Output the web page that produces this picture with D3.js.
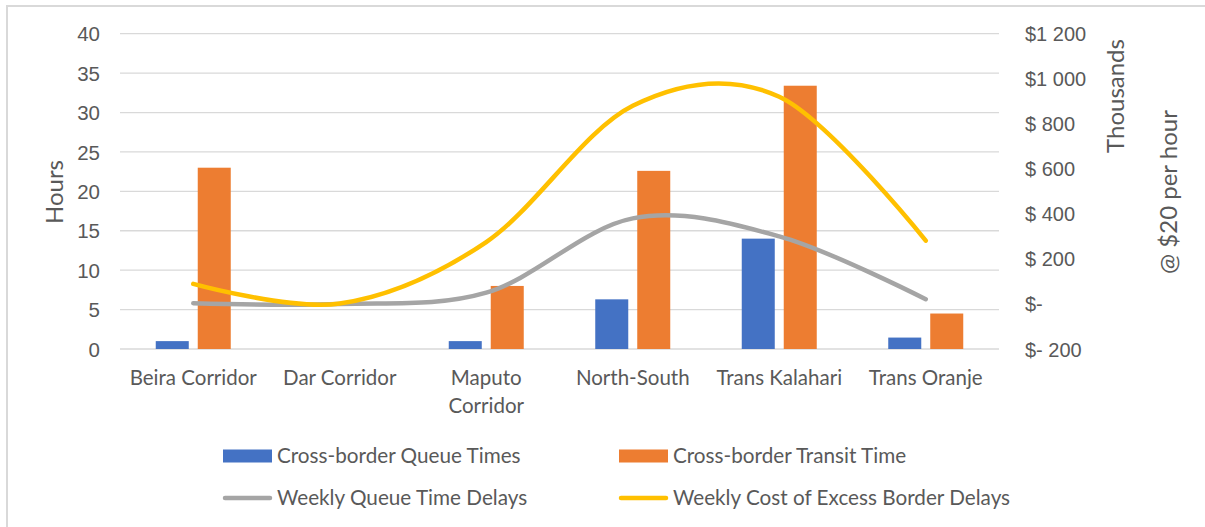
<!DOCTYPE html>
<html>
<head>
<meta charset="utf-8">
<script src="https://cdn.jsdelivr.net/npm/d3@7/dist/d3.min.js"></script>
<style>
  html, body { margin: 0; padding: 0; background: #fff; }
  svg { display: block; font-family: Lato, "Open Sans", sans-serif; }
</style>
</head>
<body>
<svg id="chart" width="1205" height="527"></svg>
<script>
// Corridors along the horizontal axis
const categories = ["Beira Corridor", "Dar Corridor", "Maputo Corridor", "North-South", "Trans Kalahari", "Trans Oranje"];

// Bars (left axis, hours)
const queueHours   = [1, 0, 1, 6.3, 14, 1.45];
const transitHours = [23, 0, 8, 22.6, 33.4, 4.5];

// Smoothed lines (right axis, $ thousands @ $20 per hour)
const weeklyQueueDelays = [3, 0, 50, 380, 300, 21];
const weeklyExcessCost  = [89, 2, 275, 880, 920, 281];

// Axis ticks
const leftTicks  = [0, 5, 10, 15, 20, 25, 30, 35, 40];
const rightTicks = [-200, 0, 200, 400, 600, 800, 1000, 1200];
const rightTickLabels = ["$- 200", "$-", "$ 200", "$ 400", "$ 600", "$ 800", "$1 000", "$1 200"];

const barSeries = [
  { name: "Cross-border Queue Times", values: queueHours, color: "#4472C4" },
  { name: "Cross-border Transit Time", values: transitHours, color: "#ED7D31" }
];
const lineSeries = [
  { name: "Weekly Queue Time Delays", values: weeklyQueueDelays, color: "#A5A5A5" },
  { name: "Weekly Cost of Excess Border Delays", values: weeklyExcessCost, color: "#FFC000" }
];

const svg = d3.select("#chart");
const textColor = "#595959";
const fontSize = "20.5px";
const plot = { left: 120, right: 999, top: 33.7, bottom: 349 };

// Chart frame
svg.append("rect")
  .attr("x", 7).attr("y", 6).attr("width", 1220).attr("height", 540)
  .attr("fill", "none").attr("stroke", "#D9D9D9").attr("stroke-width", 2);

const x = d3.scaleBand().domain(categories).range([plot.left, plot.right]).padding(0);
const xInner = d3.scaleBand().domain(d3.range(barSeries.length))
  .range([-37.5, 37.5]).paddingInner(0.214).paddingOuter(0);
const yLeft  = d3.scaleLinear().domain([0, 40]).range([plot.bottom, plot.top]);
const yRight = d3.scaleLinear().domain([-200, 1200]).range([plot.bottom, plot.top]);

// Gridlines
svg.append("g").selectAll("line").data(leftTicks).join("line")
  .attr("x1", plot.left).attr("x2", plot.right)
  .attr("y1", d => yLeft(d)).attr("y2", d => yLeft(d))
  .attr("stroke", "#D9D9D9").attr("stroke-width", 1.3);

// Left axis
const leftAxis = svg.append("g")
  .attr("transform", `translate(${plot.left - 20},0)`)
  .call(d3.axisLeft(yLeft).tickValues(leftTicks).tickSize(0).tickPadding(0));
leftAxis.select(".domain").remove();
leftAxis.selectAll("text").attr("fill", textColor).style("font-size", fontSize).attr("dy", "0.35em");

// Right axis
const rightAxis = svg.append("g")
  .attr("transform", `translate(${plot.right + 26},0)`)
  .call(d3.axisRight(yRight).tickValues(rightTicks).tickSize(0).tickPadding(0)
    .tickFormat((d, i) => rightTickLabels[i]));
rightAxis.select(".domain").remove();
rightAxis.selectAll("text").attr("fill", textColor).style("font-size", "20px").attr("dy", "0.35em");

// Category labels, wrapped when wider than the band
const catG = svg.append("g");
categories.forEach(c => {
  const cx = x(c) + x.bandwidth() / 2;
  const t = catG.append("text")
    .attr("x", cx).attr("y", 385)
    .attr("text-anchor", "middle").attr("fill", textColor).style("font-size", fontSize);
  const words = c.split(" ");
  let words_on_line = [], tspan = t.append("tspan").attr("x", cx).attr("dy", 0);
  words.forEach(w => {
    words_on_line.push(w);
    tspan.text(words_on_line.join(" "));
    if (tspan.node().getComputedTextLength() > 140 && words_on_line.length > 1) {
      words_on_line.pop();
      tspan.text(words_on_line.join(" "));
      words_on_line = [w];
      tspan = t.append("tspan").attr("x", cx).attr("dy", 28).text(w);
    }
  });
});

// Bars
barSeries.forEach((s, si) => {
  svg.append("g").selectAll("rect").data(s.values).join("rect")
    .attr("x", (d, i) => x(categories[i]) + x.bandwidth() / 2 + xInner(si))
    .attr("width", xInner.bandwidth())
    .attr("y", d => yLeft(d))
    .attr("height", d => yLeft(0) - yLeft(d))
    .attr("fill", s.color);
});

// Smoothed lines
const line = d3.line()
  .x((d, i) => x(categories[i]) + x.bandwidth() / 2)
  .y(d => yRight(d))
  .curve(d3.curveCardinal.tension(0));
lineSeries.forEach(s => {
  svg.append("path").datum(s.values)
    .attr("d", line)
    .attr("fill", "none").attr("stroke", s.color)
    .attr("stroke-width", 4.5).attr("stroke-linecap", "round").attr("stroke-linejoin", "round");
});

// Axis titles
svg.append("text").attr("transform", "translate(63,192) rotate(-90)")
  .attr("text-anchor", "middle").attr("fill", textColor).style("font-size", "24px").text("Hours");
svg.append("text").attr("transform", "translate(1124,96) rotate(-90)")
  .attr("text-anchor", "middle").attr("fill", textColor).style("font-size", "24px").text("Thousands");
svg.append("text").attr("transform", "translate(1177,192) rotate(-90)")
  .attr("text-anchor", "middle").attr("fill", textColor).style("font-size", "24px").text("@ $20 per hour");

// Legend
const legendItems = [
  { ...barSeries[0], type: "bar", x: 223, y: 456 },
  { ...barSeries[1], type: "bar", x: 619, y: 456 },
  { ...lineSeries[0], type: "line", x: 223, y: 498 },
  { ...lineSeries[1], type: "line", x: 619, y: 498 }
];
const lg = svg.append("g").selectAll("g").data(legendItems).join("g")
  .attr("transform", d => `translate(${d.x},${d.y})`);
lg.each(function(d) {
  const g = d3.select(this);
  if (d.type === "bar") {
    g.append("rect").attr("x", 0).attr("y", -6.5).attr("width", 49).attr("height", 13).attr("fill", d.color);
  } else {
    g.append("line").attr("x1", 2).attr("x2", 47).attr("y1", 0).attr("y2", 0)
      .attr("stroke", d.color).attr("stroke-width", 4.5).attr("stroke-linecap", "round");
  }
  g.append("text").attr("x", 54).attr("dy", "0.35em")
    .attr("fill", textColor).style("font-size", "20.7px").text(d.name);
});
</script>
</body>
</html>
